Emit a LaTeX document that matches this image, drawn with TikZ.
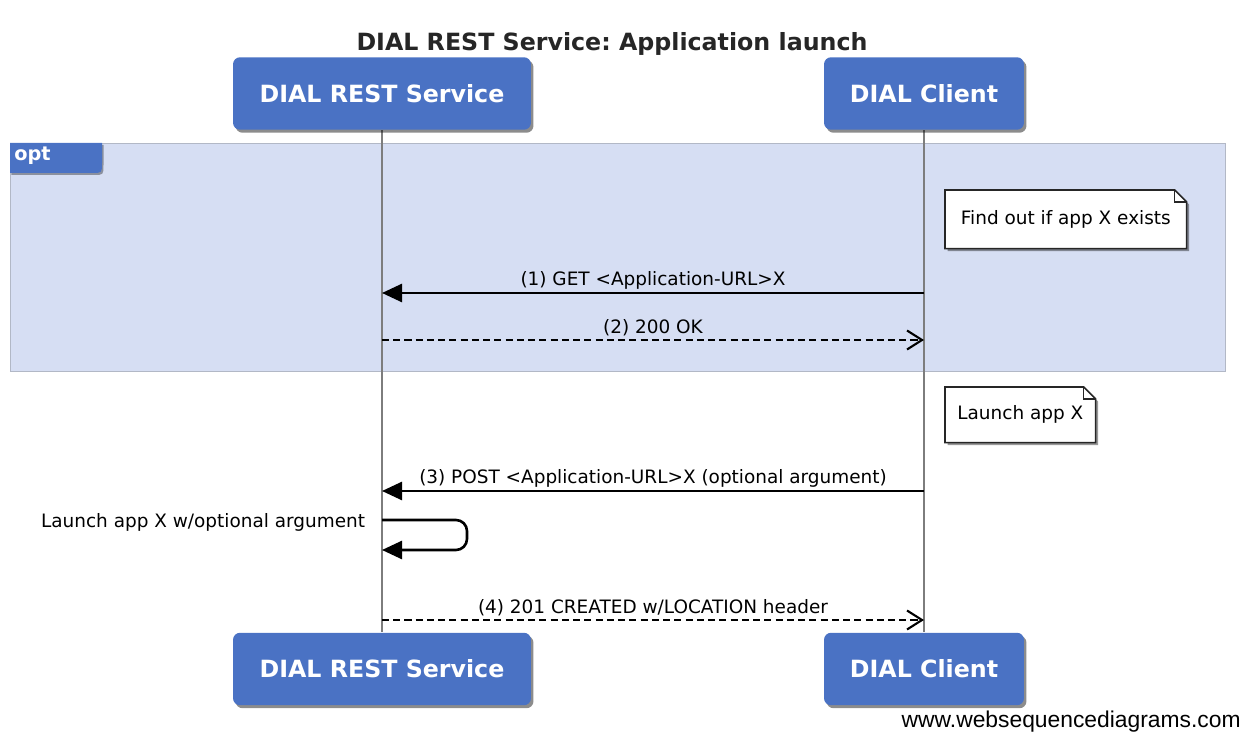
\documentclass[tikz,border=0pt]{standalone}
\usepackage{fontspec}
\setmainfont{DejaVu Sans}
\newfontfamily\footfont{Liberation Sans}
\usetikzlibrary{arrows.meta,shadows,calc}
\definecolor{boxblue}{RGB}{74,114,196}
\definecolor{optfill}{RGB}{214,222,243}
\definecolor{optborder}{RGB}{178,184,198}
\definecolor{lifegray}{RGB}{125,125,125}
\pgfdeclarelayer{back}
\pgfdeclarelayer{mid}
\pgfsetlayers{back,mid,main}
\frenchspacing
\begin{document}
\begin{tikzpicture}[x=0.02cm,y=-0.02cm,
  participant/.style={fill=boxblue, rounded corners=0.14cm, minimum height=1.45cm,
    text=white, font=\bfseries\fontsize{13.5}{16}\selectfont,
    drop shadow={shadow xshift=0.05cm, shadow yshift=-0.06cm, opacity=0.45, fill=black}},
  titlefont/.style={font=\bfseries\fontsize{13.5}{16}\selectfont, text=black!85},
  lbl/.style={font=\fontsize{10.5}{12}\selectfont, inner sep=1.5pt},
  lifeline/.style={draw=lifegray, line width=1.2pt},
  msg/.style={line width=1.5pt, -{Triangle[length=0.4cm, width=0.36cm]}},
  reply/.style={line width=1.2pt, dash pattern=on 4pt off 2.4pt,
    -{Straight Barb[length=0.3cm, width=0.38cm, line width=1.2pt]}},
  notetext/.style={font=\fontsize{10.5}{12}\selectfont, inner sep=0pt, anchor=north west},
  noteshape/.style={draw=black!85, fill=white, line width=0.9pt,
    drop shadow={shadow xshift=0.05cm, shadow yshift=-0.05cm, opacity=0.4, fill=black}},
  opttab/.style={fill=boxblue, draw=none,
    drop shadow={shadow xshift=0.03cm, shadow yshift=-0.04cm, opacity=0.35, fill=black}},
  optlabelstyle/.style={text=white, font=\bfseries\fontsize{11}{13}\selectfont, inner sep=0pt, anchor=west}
]
\useasboundingbox (0,0) rectangle (1251,736);

% title
\node[titlefont] (title) at (612,44) {DIAL REST Service: Application launch};

% opt frame
\begin{pgfonlayer}{back}
\node[draw=optborder, fill=optfill, line width=0.7pt, minimum width=24.3cm,
  minimum height=4.56cm, anchor=north west, inner sep=0pt] (optframe) at (10,143) {};
\end{pgfonlayer}
\draw[opttab] (10,143) -- (102,143) -- (102,163)
  .. controls (102,173) .. (92,173) -- (10,173) -- cycle;
\node[optlabelstyle] (optlabel) at (14,156) {opt};

% participants
\node[participant, minimum width=5.96cm] (rs1) at (382,93.5) {DIAL REST Service};
\node[participant, minimum width=4cm] (cl1) at (924,93.5) {DIAL Client};
\node[participant, minimum width=5.96cm] (rs2) at (382,669) {DIAL REST Service};
\node[participant, minimum width=4cm] (cl2) at (924,669) {DIAL Client};

% lifelines
\begin{pgfonlayer}{back}
\draw[lifeline] (rs1.south) -- (rs2.north);
\draw[lifeline] (cl1.south) -- (cl2.north);
\end{pgfonlayer}

% notes
\node[notetext, minimum width=4.82cm, minimum height=1.16cm] (n1) at (945,190) {Find out if app X exists};
\node[notetext, minimum width=3.0cm, minimum height=1.10cm] (n2) at (945,387) {Launch app X};
\begin{pgfonlayer}{mid}
\foreach \n in {n1,n2}{
  \draw[noteshape] (\n.north west) -- ($(\n.north east)+(-12,0)$) -- ($(\n.north east)+(0,12)$)
    -- (\n.south east) -- (\n.south west) -- cycle;
  \draw[line width=0.7pt, draw=black!85] ($(\n.north east)+(-12,0)$) -- ($(\n.north east)+(-12,12)$) -- ($(\n.north east)+(0,12)$);
}
\end{pgfonlayer}

% message anchor points on lifelines
\coordinate (c1) at (924,293);
\coordinate (s1) at (382,293);
\coordinate (s2) at (382,340);
\coordinate (c2) at (924,340);
\coordinate (c3) at (924,491);
\coordinate (s3) at (382,491);
\coordinate (sa) at (382,520);
\coordinate (sb) at (382,550);
\coordinate (s4) at (382,620);
\coordinate (c4) at (924,620);

\draw[msg] (c1) -- node[lbl, above] (l1) {(1) GET <Application-URL>X} (s1);
\draw[reply] (s2) -- node[lbl, above] (l2) {(2) 200 OK} (c2);
\draw[msg] (c3) -- node[lbl, above] (l3) {(3) POST <Application-URL>X (optional argument)} (s3);
\draw[msg, rounded corners=0.22cm] (sa) -- (467,520) -- (467,550) -- (sb);
\node[lbl, anchor=east] (l5) at (368,522) {Launch app X w/optional argument};
\draw[reply] (s4) -- node[lbl, above] (l4) {(4) 201 CREATED w/LOCATION header} (c4);

% footer
\node[anchor=east, inner sep=0pt, font=\footfont\fontsize{13}{15}\selectfont] (foot) at (1241,722) {www.websequencediagrams.com};
\end{tikzpicture}
\end{document}
